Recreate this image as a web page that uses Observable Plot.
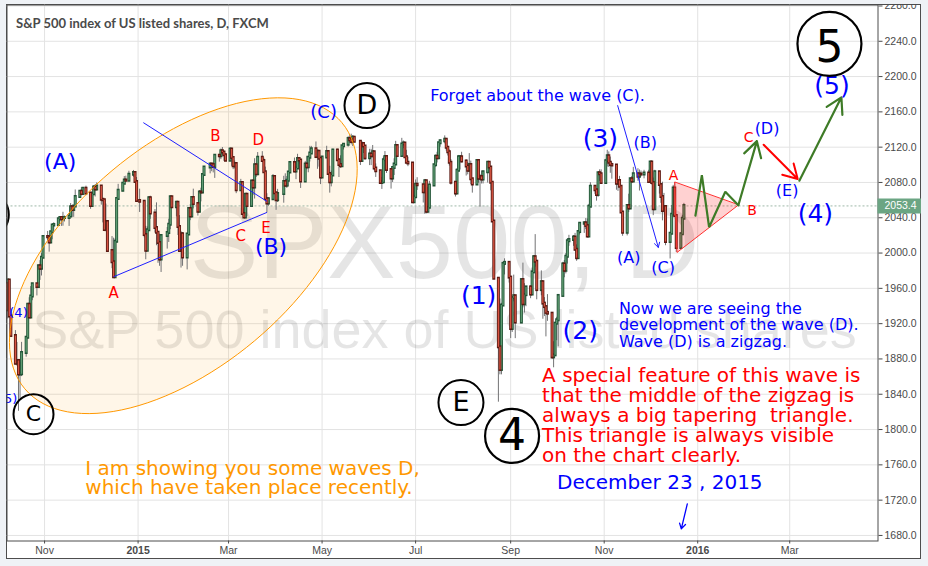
<!DOCTYPE html>
<html><head><meta charset="utf-8">
<script src="https://cdn.jsdelivr.net/npm/d3@7"></script>
<script src="https://cdn.jsdelivr.net/npm/@observablehq/plot@0.6"></script>
<style>
html,body{margin:0;padding:0;background:#eff2f6;}
#wrap{position:relative;width:928px;height:566px;overflow:hidden;}
#panel{position:absolute;left:6px;top:4px;width:913px;height:553px;border:1px solid #4d4d4d;background:#fff;}
#chart{position:absolute;left:0;top:0;}
#cover{position:absolute;left:0;top:0;width:928px;height:4px;background:#eff2f6;}
#title{position:absolute;left:16px;top:14.5px;font:bold 13px Lato, sans-serif;color:#4a4a4a;white-space:nowrap;}
</style></head><body>
<div id="wrap"><div id="panel"></div><div id="chart"></div><div id="cover"></div><div id="title">S&amp;P 500 index of US listed shares, D, FXCM</div></div>
<script>
// daily bars: [day, close, high, low]  (open = previous close)
const oct2014 = [[6,1964.8,1977.1,1958.4],[7,1935.1,1965,1935.1],[8,1968.9,1970.4,1925.3],[9,1928.2,1970,1927.6],[10,1906.1,1937,1906],[13,1874.7,1912.1,1874.1],[14,1877.7,1898.7,1871.8],[15,1862.5,1879,1820.7],[16,1862.8,1876,1835],[17,1886.8,1898.8,1860],[20,1904,1905,1882],[21,1941.3,1942.5,1904],[22,1927.1,1949.3,1927],[23,1950.8,1962,1926],[24,1964.6,1965,1946],[27,1961.6,1964.6,1951.4],[28,1985.1,1985.2,1960],[29,1982.3,1991.4,1969],[30,1994.7,1999.4,1974],[31,2018.1,2018.2,1994]];
const nov2014 = [[3,2017.8,2024.5,2013.7],[4,2012.1,2016,2001],[5,2023.6,2023.8,2012],[6,2031.2,2031.6,2015],[7,2031.9,2034.3,2025],[10,2038.3,2038.7,2030],[11,2039.7,2041.3,2035],[12,2038.3,2039,2030.2],[13,2039.8,2046.2,2030.4],[14,2039.8,2042,2035.2],[17,2041.3,2043.1,2030.2],[18,2051.8,2056.1,2041],[19,2048.7,2052.1,2040.4],[20,2052.8,2053,2040.5],[21,2063.5,2071.5,2052],[24,2069.4,2070.2,2063],[25,2067,2074.2,2064.8],[26,2072.8,2073.2,2065],[28,2067.6,2075.8,2065]];
const dec2014 = [[1,2053.4,2067,2049.6],[2,2066.6,2068.2,2053],[3,2074.3,2076.3,2066],[4,2071.9,2077.3,2063.5],[5,2075.4,2079.5,2070.8],[8,2060.3,2075.4,2054.3],[9,2059.8,2060.6,2034.2],[10,2026.1,2058.6,2024.3],[11,2035.3,2055.5,2024],[12,2002.3,2035,2002],[15,1989.6,2018.7,1982.3],[16,1972.7,2016.9,1972.6],[17,2012.9,2016,1972],[18,2061.2,2061.2,2012],[19,2070.7,2077.9,2061],[22,2078.5,2078.8,2069.3],[23,2082.2,2086.7,2078],[24,2081.9,2087.1,2081],[26,2088.8,2092.7,2081.9],[29,2090.6,2093.6,2085.8],[30,2080.4,2090.6,2079.5],[31,2058.9,2085.6,2057.9]];
const jan2015 = [[2,2058.2,2072.4,2046],[5,2020.6,2058.2,2017.3],[6,2002.6,2030.3,1992.4],[7,2025.9,2029.6,2002],[8,2062.1,2064.1,2025.9],[9,2044.8,2064.4,2038.3],[12,2028.3,2049.3,2022.6],[13,2023,2056.9,2008.3],[14,2011.3,2023,1988.4],[15,1992.7,2021.4,1985],[16,2019.4,2020.5,1978],[20,2022.6,2028.9,2004.5],[21,2032.1,2038.3,2012],[22,2063.2,2064.6,2026.4],[23,2051.8,2063.2,2050.5],[26,2057.1,2057.6,2041],[27,2029.6,2057.1,2019.9],[28,2002.2,2042.5,2001.5],[29,2021.3,2024.6,1983],[30,1995,2023.3,1985]];
const feb2015 = [[2,2020.9,2021.7,1980.9],[3,2050,2050.3,2020.9],[4,2041.5,2054.7,2036.7],[5,2062.5,2063.6,2041.5],[6,2055.5,2072.4,2050],[9,2046.7,2056.2,2041.9],[10,2068.6,2070.9,2046.7],[11,2068.5,2073.5,2058],[12,2088.5,2088.5,2068.5],[13,2097,2097,2086.7],[17,2100.3,2101.3,2089.8],[18,2099.7,2100.3,2092.2],[19,2097.5,2102.1,2090.8],[20,2110.3,2111.3,2084.6],[23,2109.7,2110.6,2103],[24,2115.5,2117.9,2105.9],[25,2113.9,2119.6,2109.9],[26,2110.7,2115.2,2103.9],[27,2104.5,2112.7,2103.8]];
const mar2015 = [[2,2117.4,2117.5,2104.5],[3,2107.8,2117.4,2098.3],[4,2098.5,2107.8,2094.5],[5,2101,2104.3,2095.2],[6,2071.3,2100.9,2067.3],[9,2079.4,2083.5,2071.3],[10,2044.2,2079.4,2044.2],[11,2040.2,2050.1,2039.7],[12,2066,2066.3,2040.2],[13,2053.4,2066,2041.2],[16,2081.2,2081.4,2053.4],[17,2074.3,2081.2,2065.1],[18,2099.5,2106.9,2061.2],[19,2089.3,2099.5,2085.6],[20,2108.1,2113.9,2089.3],[23,2104.4,2114.9,2104.4],[24,2091.5,2107.6,2091.5],[25,2061.1,2097.4,2061.1],[26,2056.2,2067.2,2045.5],[27,2061,2062.8,2053],[30,2086.2,2089,2061],[31,2067.9,2086.2,2067]];
const apr2015 = [[1,2059.7,2067.9,2048.4],[2,2067,2072.2,2057.3],[6,2080.6,2087,2056.5],[7,2076.3,2089.8,2076.1],[8,2081.9,2086.7,2073.3],[9,2091.2,2092.4,2075],[10,2102.1,2102.6,2091.1],[13,2092.4,2107.7,2092.3],[14,2095.8,2098.3,2083.2],[15,2106.6,2111.9,2095.8],[16,2105,2107.9,2100.5],[17,2081.2,2105,2073.2],[20,2100.4,2103.9,2081.2],[21,2097.3,2109.6,2094.4],[22,2108,2109.6,2091],[23,2112.9,2120.9,2103.2],[24,2117.7,2120.9,2112.7],[27,2108.9,2125.9,2107],[28,2114.8,2116.9,2094.9],[29,2106.9,2114.8,2097.4],[30,2085.5,2106.9,2077.6]];
const may2015 = [[1,2108.3,2108.4,2085.5],[4,2114.5,2121,2108.3],[5,2089.5,2115.2,2088.5],[6,2080.2,2098.3,2067.9],[7,2088,2092.9,2075],[8,2116.1,2117.7,2088],[11,2105.3,2117.7,2104.6],[12,2099.9,2105.3,2085.6],[13,2098.5,2110.2,2096],[14,2121.1,2121.5,2098.5],[15,2122.7,2123.9,2116.8],[18,2129.2,2131.8,2120],[19,2127.8,2133,2124.5],[20,2125.9,2134.7,2122.6],[21,2130.8,2133.2,2120.7],[22,2126.1,2132.2,2126.1],[26,2104.2,2126.2,2099.2],[27,2123.5,2126.2,2104.2],[28,2120.8,2123.5,2112.8],[29,2107.4,2120.8,2104.9]];
const jun2015 = [[1,2111.7,2117.6,2099.1],[2,2109.6,2117.6,2099.1],[3,2114.1,2121.9,2109.6],[4,2095.8,2114.1,2093.2],[5,2092.8,2101,2085.7],[8,2079.3,2093,2079.1],[9,2080.2,2085.7,2072.1],[10,2105.2,2109,2080.2],[11,2108.9,2115,2105.2],[12,2094.1,2108.9,2090.2],[15,2084.4,2094.1,2072.5],[16,2096.3,2097,2079.9],[17,2100.4,2106.8,2087.9],[18,2121.2,2126.6,2100.4],[19,2110,2121.2,2109.8],[22,2122.9,2130,2110],[23,2124.2,2127,2118.3],[24,2108.6,2125,2108.6],[25,2102.3,2116.4,2102.3],[26,2101.5,2108.6,2097.9],[29,2057.6,2084.5,2056.2],[30,2063.1,2074.3,2056.3]];
const jul2015 = [[1,2077.4,2082.8,2063.1],[2,2076.8,2085.4,2071],[6,2068.8,2074.5,2056.7],[7,2081.3,2083.4,2044],[8,2046.7,2081.3,2044.5],[9,2051.3,2074.3,2046.7],[10,2076.6,2081.3,2051.3],[13,2099.6,2100.7,2076.6],[14,2109,2111,2097.5],[15,2107.4,2114.2,2102.1],[16,2124.3,2124.4,2107.4],[17,2126.6,2128.6,2119.9],[20,2128.3,2132.8,2123.7],[21,2119.2,2128.7,2115.4],[22,2114.2,2119.2,2110],[23,2102.2,2116.9,2098.6],[24,2079.7,2106,2077.1],[27,2067.6,2079.7,2063.5],[28,2093.3,2095.6,2067.6],[29,2108.6,2110.6,2093.3],[30,2108.6,2110.5,2094.1],[31,2103.8,2114.2,2102.1]];
const aug2015 = [[3,2098,2105.7,2087.3],[4,2093.3,2102.5,2088.6],[5,2099.8,2112.7,2093.3],[6,2083.6,2104.2,2077.5],[7,2077.6,2083.6,2067.9],[10,2104.2,2105.4,2077.6],[11,2084.1,2104.2,2079.1],[12,2086.1,2089.1,2052.1],[13,2083.4,2092.9,2078.3],[14,2091.5,2092.8,2078.3],[17,2102.4,2102.7,2079.3],[18,2096.9,2103.5,2094.1],[19,2079.6,2096.9,2070.5],[20,2035.7,2079.6,2035.7],[21,1970.9,2035.7,1970.9],[24,1893.2,1970.9,1831],[25,1867.6,1948,1862],[26,1940.5,1943.1,1862],[27,1987.7,1989.6,1940.5],[28,1988.9,1993.5,1975.2],[31,1972.2,1988.9,1966]];
const sep2015 = [[1,1913.9,1972.2,1903],[2,1948.9,1948.9,1910],[3,1951.1,1975,1944.7],[4,1921.2,1951.1,1903],[8,1969.4,1970.1,1921.2],[9,1942,1988.6,1937.9],[10,1952.3,1965.3,1932],[11,1961.1,1961.1,1939.2],[14,1953,1963.1,1948.3],[15,1978.1,1983,1953],[16,1995.3,1997.3,1977.9],[17,1990.2,2020.9,1984],[18,1958,1990.2,1947],[21,1967,1979.8,1951.6],[22,1942.7,1967,1925],[23,1938.8,1949.5,1928],[24,1932.2,1938.8,1905],[25,1931.3,1952.9,1922.6],[28,1881.8,1931.3,1879.7],[29,1884.1,1899.5,1870],[30,1920,1920.5,1884.1]];
const oct2015 = [[1,1923.8,1927.2,1900.7],[2,1951.4,1951.4,1893.7],[5,1987.1,1989.5,1951.4],[6,1979.9,1991.6,1972],[7,1995.8,1999.4,1976.4],[8,2013.4,2016.5,1987.5],[9,2014.9,2020.1,2007.6],[12,2017.5,2019.9,2007.6],[13,2003.7,2022.3,2001.8],[14,1994.2,2009.3,1990.7],[15,2023.9,2024,1994.2],[16,2033.1,2033.5,2020.5],[19,2033.7,2034.5,2022.3],[20,2030.8,2039.1,2026.6],[21,2018.9,2038.7,2017.2],[22,2052.5,2055.2,2018.9],[23,2075.2,2079.7,2052.5],[26,2071.2,2075.2,2066.5],[27,2065.9,2071.2,2058.8],[28,2090.4,2090.4,2063.1],[29,2089.4,2094.3,2081.2],[30,2079.4,2094.3,2079.3]];
const nov2015 = [[2,2104,2106.2,2079.4],[3,2109.8,2116.5,2097.5],[4,2102.3,2114.6,2097],[5,2099.9,2108.8,2090.4],[6,2099.2,2101.9,2083.7],[9,2078.6,2099.2,2071.2],[10,2081.7,2083.2,2069.9],[11,2075,2086.9,2074.9],[12,2046,2075,2045.7],[13,2023,2046,2019],[16,2053.2,2053.2,2019.4],[17,2050.4,2066.7,2045.9],[18,2083.6,2083.6,2050.4],[19,2081.2,2086.7,2078.8],[20,2089.2,2097.1,2081.2],[23,2086.6,2095.6,2081.4],[24,2089.1,2094.1,2070.3],[25,2088.9,2093,2086.3],[27,2090.1,2093.8,2084.1],[30,2080.4,2093.8,2080.4]];
const dec2015 = [[1,2102.6,2103.4,2080.4],[2,2079.5,2104.3,2077.1],[3,2049.6,2085,2042.4],[4,2091.7,2093.8,2049.6],[7,2077.1,2091.7,2066.8],[8,2063.6,2077.1,2056.3],[9,2047.6,2080.3,2036.5],[10,2052.2,2067.6,2045.7],[11,2012.4,2052.2,2008.3],[14,2021.9,2022.9,1993.3],[15,2043.4,2053.9,2021.9],[16,2073.1,2076.7,2042.4],[17,2041.9,2080,2041.7],[18,2005.6,2041.9,2000.7],[21,2021.2,2022.9,2005.6],[22,2039,2042.7,2020.5],[23,2053.4,2056.3,2039]];

const lastPrice = 2053.4;
const yTicks = [1680,1720,1760,1800,1840,1880,1920,1960,2000,2040,2080,2120,2160,2200,2240,2280];
const xTickDates = ["2014-11-01","2015-01-01","2015-03-01","2015-05-01","2015-07-01","2015-09-01","2015-11-01","2016-01-01","2016-03-01"];
const xTickLabels = ["Nov","2015","Mar","May","Jul","Sep","Nov","2016","Mar"];

// annotations (date, price)
const blueBig = [{x:"2015-08-11T02:00Z",y:1951.6,text:"(1)"},{x:"2015-10-16T10:00Z",y:1911.9,text:"(2)"},{x:"2015-10-29T12:00Z",y:2129.3,text:"(3)"},{x:"2016-03-17T17:00Z",y:2044.6,text:"(4)"},{x:"2016-03-28T14:00Z",y:2189.8,text:"(5)"}];
const blueMid = [{x:"2014-11-11T05:00Z",y:2102.8,text:"(A)"},{x:"2015-03-28T17:00Z",y:2006.4,text:"(B)"}];
const blueMid2 = [{x:"2015-05-02T00:00Z",y:2159.5,text:"(C)"}];
const blueSmall = [{x:"2015-11-17T00:00Z",y:1995,text:"(A)"},{x:"2015-11-27T19:00Z",y:2125.4,text:"(B)"},{x:"2015-12-09T10:00Z",y:1983.7,text:"(C)"},{x:"2016-02-15T05:00Z",y:2140.6,text:"(D)"},{x:"2016-02-28T07:00Z",y:2070.7,text:"(E)"}];
const blueTiny = [{x:"2014-10-15T00:00Z",y:1932.6,text:"(4)"},{x:"2014-10-08T07:00Z",y:1834.8,text:"(5)"},{x:"2014-10-01T00:00Z",y:1991.3,text:"(3)"}];
const redLetters = [{x:"2014-12-16T00:00Z",y:1954.2,text:"A"},{x:"2015-02-20T10:00Z",y:2133,text:"B"},{x:"2015-03-09T00:00Z",y:2019.6,text:"C"},{x:"2015-03-20T10:00Z",y:2127.4,text:"D"},{x:"2015-03-25T10:00Z",y:2028.4,text:"E"}];
const redLettersLate = [{x:"2015-12-16T07:00Z",y:2087.7,text:"A"},{x:"2016-02-05T10:00Z",y:2048,text:"B"},{x:"2016-02-03T05:00Z",y:2131.1,text:"C"}];
const circleBig = [{x:"2016-03-26T22:00Z",y:2237.1,text:"5"}];
const circleMid = [{x:"2015-09-01T22:00Z",y:1792.8,text:"4"}];
const circleSmall = [{x:"2015-07-30T14:00Z",y:1830.6,text:"E"},{x:"2015-05-30T07:00Z",y:2167.1,text:"D"},{x:"2014-09-24T00:00Z",y:2043.4,text:""}];
const circleC = [{x:"2014-10-24T19:00Z",y:1817.4,text:"C"}];
const forgetNote = [{x:"2015-07-10T12:00Z",y:2178.4,text:"Forget about the wave (C)."}];
const blueNote = [{x:"2015-11-10T14:00Z",y:1936.5,text:"Now we are seeing the"},{x:"2015-11-10T14:00Z",y:1918.3,text:"development of the wave (D)."},{x:"2015-11-10T14:00Z",y:1899.7,text:"Wave (D) is a zigzag."}];
const redNote = [{x:"2015-09-21T12:00Z",y:1860.8,text:"A special feature of this wave is"},{x:"2015-09-21T12:00Z",y:1838.1,text:"that the middle of the zigzag is"},{x:"2015-09-21T12:00Z",y:1815.4,text:"always a big tapering  triangle."},{x:"2015-09-21T12:00Z",y:1792.7,text:"This triangle is always visible"},{x:"2015-09-21T12:00Z",y:1770.0,text:"on the chart clearly."}];
const orangeNote = [{x:"2014-11-27T14:00Z",y:1756.2,text:"I am showing you some waves D,"},{x:"2014-11-27T14:00Z",y:1733.9,text:"which have taken place recently."}];
const dateNote = [{x:"2015-10-01T07:00Z",y:1739.6,text:"December 23 , 2015"}];
const blueLines = [{x1:"2015-01-04T10:00Z",y1:2147.8,x2:"2015-03-26T02:00Z",y2:2058.5},{x1:"2014-12-16T00:00Z",y1:1973.1,x2:"2015-03-26T02:00Z",y2:2046.1}];
const blueArrow = [{x1:"2015-11-09T19:00Z",y1:2167.1,x2:"2015-12-06T07:00Z",y2:2006.4}];
const dateArrow = [{x1:"2015-12-25T05:00Z",y1:1715.7,x2:"2015-12-21T07:00Z",y2:1687.4}];
const triangle = [{x:"2015-12-17T00:00Z",y:2080.1},{x:"2015-12-18T12:00Z",y:2000.7},{x:"2016-01-27T12:00Z",y:2054.4}];
const zigzag = [{x:"2015-12-30T12:00Z",y:2042.3},{x:"2016-01-03T17:00Z",y:2088.2},{x:"2016-01-08T10:00Z",y:2029.3},{x:"2016-01-19T00:00Z",y:2069.5},{x:"2016-01-27T12:00Z",y:2054.2}];
const greenArrows = [{x1:"2016-01-27T12:00Z",y1:2054.2,x2:"2016-02-08T14:00Z",y2:2126.8},{x1:"2016-03-07T07:00Z",y1:2082,x2:"2016-04-03T17:00Z",y2:2176.5}];
const redArrow = [{x1:"2016-02-13T00:00Z",y1:2122.8,x2:"2016-03-06T05:00Z",y2:2083.9}];
const ellipseSpec = {x:"2015-01-30T12:00Z", y:1997, rx:207, ry:111, angle:-40};

// ---- build ----
const months = [[2014,9,oct2014],[2014,10,nov2014],[2014,11,dec2014],[2015,0,jan2015],[2015,1,feb2015],[2015,2,mar2015],[2015,3,apr2015],[2015,4,may2015],[2015,5,jun2015],[2015,6,jul2015],[2015,7,aug2015],[2015,8,sep2015],[2015,9,oct2015],[2015,10,nov2015],[2015,11,dec2015]];
const bars = [];
let prev = null;
for (const [yr, mo, rows] of months) for (const [day, close, high, low] of rows) {
  const open = prev ?? close;
  bars.push({date: new Date(Date.UTC(yr, mo, day)), open, close, high: Math.max(high, open, close), low: Math.min(low, open, close)});
  prev = close;
}
const up = bars.filter(d => d.close >= d.open), down = bars.filter(d => d.close < d.open);
const P = a => a.map(d => ({...d, x: d.x ? new Date(d.x) : undefined, x1: d.x1 ? new Date(d.x1) : undefined, x2: d.x2 ? new Date(d.x2) : undefined}));

const W = 928, H = 566, mL = 6.5, mR = 50.5, mT = 4.5, mB = 25.5;
const xDomain = [new Date("2014-10-07T12:00Z"), new Date("2016-04-27T14:00Z")];
const yDomain = [1673.7, 2281.1];
const xs = Plot.scale({x: {type: "utc", domain: xDomain, range: [mL, W - mR]}});
const ys = Plot.scale({y: {type: "linear", domain: yDomain, range: [H - mB, mT]}});
// ellipse outline (screen-space shape anchored at a data point)
const ell = [];
{
  const cx = xs.apply(new Date(ellipseSpec.x)), cy = ys.apply(ellipseSpec.y);
  const a = ellipseSpec.angle * Math.PI / 180;
  for (let k = 0; k < 120; k++) {
    const t = k / 120 * 2 * Math.PI;
    const px = cx + ellipseSpec.rx * Math.cos(t) * Math.cos(a) - ellipseSpec.ry * Math.sin(t) * Math.sin(a);
    const py = cy + ellipseSpec.rx * Math.cos(t) * Math.sin(a) + ellipseSpec.ry * Math.sin(t) * Math.cos(a);
    ell.push({x: xs.invert(px), y: ys.invert(py)});
  }
}
// last-price tag spans the right axis strip
const tagEnd = xs.invert(W - 7);
const tag = [{x1: xDomain[1], x2: tagEnd, y: lastPrice}];
const ticksX = xTickDates.map(s => new Date(s + "T00:00Z"));
const isYear = xTickLabels.map(l => /^\d{4}$/.test(l));
const labelOf = d => xTickLabels[ticksX.findIndex(t => +t === +d)];
const AF = "'DejaVu Sans', Verdana, sans-serif";
const axisFont = "'Liberation Sans', Arial, sans-serif";
const BLUE = "#0000ff", RED = "#ff0000";

const plot = Plot.plot({
  width: W, height: H, marginLeft: mL, marginRight: mR, marginTop: mT, marginBottom: mB,
  style: {background: "transparent", fontFamily: axisFont, fontSize: "10.5px", color: "#4a4a4a", whiteSpace: "pre", overflow: "visible"},
  x: {type: "utc", domain: xDomain},
  y: {type: "linear", domain: yDomain},
  marks: [
    Plot.gridX(ticksX, {stroke: "#e3e3e3", strokeOpacity: 1}),
    Plot.gridY(yTicks, {stroke: "#e3e3e3", strokeOpacity: 1}),
    Plot.text(["SPX500, D"], {text: d => d, frameAnchor: "middle", lineAnchor: "bottom", dy: 4.5, dx: 2, fontSize: 103, fontFamily: axisFont, fill: "#000", fillOpacity: 0.1}),
    Plot.text(["S&P 500 index of US listed shares"], {text: d => d, frameAnchor: "middle", lineAnchor: "bottom", dy: 74.5, dx: 2, fontSize: 54, fontFamily: axisFont, fill: "#000", fillOpacity: 0.1}),
    Plot.line(ell, {x: "x", y: "y", curve: "linear-closed", fill: "#ff9800", fillOpacity: 0.09, stroke: "none"}),
    Plot.ruleY([lastPrice], {stroke: "#9fb8a8", strokeDasharray: "2,2"}),
    Plot.ruleX(bars, {x: "date", y1: "low", y2: "high", stroke: "#737375", strokeWidth: 1, clip: true}),
    Plot.ruleX(up, {x: "date", y1: "open", y2: "close", stroke: "#225437", strokeWidth: 3, strokeLinecap: "square", clip: true}),
    Plot.ruleX(up, {x: "date", y1: "open", y2: "close", stroke: "#5f9c72", strokeWidth: 1.3, clip: true}),
    Plot.ruleX(down, {x: "date", y1: "open", y2: "close", stroke: "#5b1a13", strokeWidth: 3, strokeLinecap: "square", clip: true}),
    Plot.ruleX(down, {x: "date", y1: "open", y2: "close", stroke: "#d75442", strokeWidth: 1.3, clip: true}),
    Plot.line(ell, {x: "x", y: "y", curve: "linear-closed", stroke: "#ff9800", strokeWidth: 1, clip: true}),
    Plot.link(P(blueLines), {x1: "x1", y1: "y1", x2: "x2", y2: "y2", stroke: "#1f1fff", strokeWidth: 1}),
    Plot.arrow(P(blueArrow), {x1: "x1", y1: "y1", x2: "x2", y2: "y2", stroke: "#1f1fff", strokeWidth: 1, headLength: 8}),
    Plot.line(P(triangle), {x: "x", y: "y", curve: "linear-closed", fill: "#ff0000", fillOpacity: 0.18, stroke: "#ff3030", strokeWidth: 1}),
    Plot.line(P(zigzag), {x: "x", y: "y", stroke: "#3e7b27", strokeWidth: 2.2, strokeLinejoin: "miter"}),
    Plot.arrow(P(greenArrows), {x1: "x1", y1: "y1", x2: "x2", y2: "y2", stroke: "#3e7b27", strokeWidth: 2.2, headLength: 12}),
    Plot.arrow(P(redArrow), {x1: "x1", y1: "y1", x2: "x2", y2: "y2", stroke: RED, strokeWidth: 2, headLength: 12}),
    Plot.arrow(P(dateArrow), {x1: "x1", y1: "y1", x2: "x2", y2: "y2", stroke: BLUE, strokeWidth: 1.3, headLength: 7}),
    Plot.text(P(blueBig), {x: "x", y: "y", text: "text", fill: BLUE, fontSize: 25, fontFamily: AF}),
    Plot.text(P(blueMid), {x: "x", y: "y", text: "text", fill: BLUE, fontSize: 22, fontFamily: AF}),
    Plot.text(P(blueMid2), {x: "x", y: "y", text: "text", fill: BLUE, fontSize: 18, fontFamily: AF}),
    Plot.text(P(blueSmall), {x: "x", y: "y", text: "text", fill: BLUE, fontSize: 16, fontFamily: AF}),
    Plot.text(P(blueTiny), {x: "x", y: "y", text: "text", fill: BLUE, fontSize: 13, fontFamily: AF, clip: true}),
    Plot.text(P(redLetters), {x: "x", y: "y", text: "text", fill: RED, fontSize: 15, fontFamily: AF}),
    Plot.text(P(redLettersLate), {x: "x", y: "y", text: "text", fill: RED, fontSize: 14, fontFamily: AF}),
    Plot.dot(P(circleBig), {x: "x", y: "y", r: 32, stroke: "#000", strokeWidth: 2.2, fill: "none"}),
    Plot.text(P(circleBig), {x: "x", y: "y", text: "text", dy: 4, fill: "#000", fontSize: 44, fontFamily: AF}),
    Plot.dot(P(circleMid), {x: "x", y: "y", r: 27, stroke: "#000", strokeWidth: 2.2, fill: "none"}),
    Plot.text(P(circleMid), {x: "x", y: "y", text: "text", fill: "#000", fontSize: 44, fontFamily: AF}),
    Plot.dot(P(circleSmall), {x: "x", y: "y", r: 22.5, stroke: "#000", strokeWidth: 2, fill: "none", clip: true}),
    Plot.text(P(circleSmall), {x: "x", y: "y", text: "text", fill: "#000", fontSize: 27, fontFamily: AF}),
    Plot.dot(P(circleC), {x: "x", y: "y", r: 20, stroke: "#000", strokeWidth: 2, fill: "none"}),
    Plot.text(P(circleC), {x: "x", y: "y", text: "text", fill: "#000", fontSize: 22, fontFamily: AF}),
    Plot.text(P(forgetNote), {x: "x", y: "y", text: "text", fill: BLUE, fontSize: 16, fontFamily: AF, textAnchor: "start"}),
    Plot.text(P(blueNote), {x: "x", y: "y", text: "text", fill: BLUE, fontSize: 16, fontFamily: AF, textAnchor: "start"}),
    Plot.text(P(redNote), {x: "x", y: "y", text: "text", fill: RED, fontSize: 20, fontFamily: AF, textAnchor: "start"}),
    Plot.text(P(orangeNote), {x: "x", y: "y", text: "text", fill: "#ff9800", fontSize: 20, fontFamily: AF, textAnchor: "start"}),
    Plot.text(P(dateNote), {x: "x", y: "y", text: "text", fill: BLUE, fontSize: 20, fontFamily: AF, textAnchor: "start"}),
    Plot.frame({stroke: "#4d4d4d"}),
    Plot.axisX(ticksX.filter((d, i) => !isYear[i]), {tickFormat: labelOf, tickSize: 3, tickPadding: 3, fontSize: 10.5, fontFamily: axisFont, label: null}),
    Plot.axisX(ticksX.filter((d, i) => isYear[i]), {tickFormat: labelOf, tickSize: 3, tickPadding: 3, fontSize: 10.5, fontWeight: "bold", fontFamily: axisFont, label: null}),
    Plot.axisY(yTicks, {anchor: "right", tickFormat: d3.format(".1f"), tickSize: 4, tickPadding: 2.5, fontSize: 10.5, fontFamily: axisFont, label: null}),
    Plot.ruleY(tag, {x1: "x1", x2: "x2", y: "y", stroke: "#6ba583", strokeWidth: 15}),
    Plot.text(tag, {x: "x1", y: "y", text: d => d3.format(".1f")(d.y), textAnchor: "start", dx: 6.5, fill: "#ffffff", fontSize: 10.5, fontFamily: axisFont})
  ]
});
document.getElementById("chart").appendChild(plot);
</script>
</body></html>
